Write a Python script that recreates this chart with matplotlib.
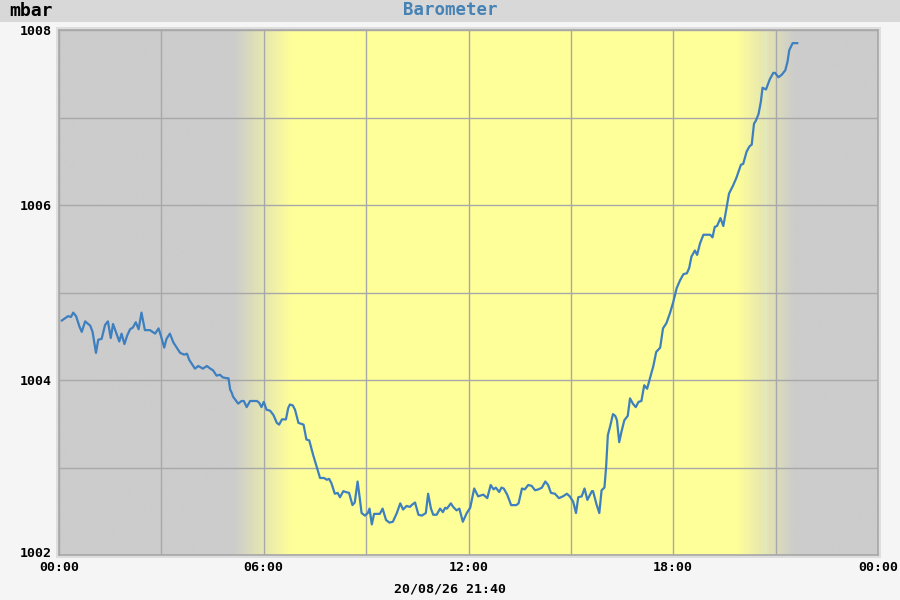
import numpy as np
import matplotlib
matplotlib.use("Agg")
import matplotlib.pyplot as plt
import matplotlib.transforms as mtransforms
from matplotlib.patches import Rectangle

# barometer readings, 20/08/26 (time of day, mbar)
times = [
    "00:05", "00:16", "00:21", "00:25", "00:30", "00:36", "00:40", "00:46", "00:55", "00:59",
    "01:05", "01:09", "01:15", "01:21", "01:26", "01:31", "01:35", "01:41", "01:46", "01:50",
    "01:55", "02:00", "02:05", "02:10", "02:15", "02:20", "02:25", "02:31", "02:40", "02:49",
    "02:55", "02:59", "03:05", "03:09", "03:15", "03:21", "03:27", "03:33", "03:40", "03:45",
    "03:49", "03:59", "04:05", "04:13", "04:20", "04:26", "04:31", "04:37", "04:43", "04:48",
    "04:55", "04:58", "05:01", "05:04", "05:06", "05:15", "05:21", "05:25", "05:30", "05:36",
    "05:48", "05:52", "05:56", "06:00", "06:05", "06:11", "06:17", "06:23", "06:27", "06:32",
    "06:39", "06:43", "06:46", "06:51", "06:55", "07:01", "07:10", "07:15", "07:20", "07:27",
    "07:33", "07:39", "07:46", "07:51", "07:55", "07:59", "08:05", "08:10", "08:14", "08:20",
    "08:24", "08:30", "08:36", "08:40", "08:45", "08:49", "08:52", "08:58", "09:03", "09:06",
    "09:10", "09:14", "09:24", "09:29", "09:35", "09:41", "09:47", "09:54", "10:00", "10:05",
    "10:11", "10:17", "10:20", "10:26", "10:32", "10:38", "10:45", "10:49", "10:54", "10:58",
    "11:04", "11:10", "11:15", "11:19", "11:22", "11:29", "11:33", "11:39", "11:44", "11:50",
    "11:57", "12:03", "12:10", "12:17", "12:26", "12:33", "12:39", "12:44", "12:48", "12:54",
    "12:58", "13:02", "13:08", "13:15", "13:24", "13:28", "13:34", "13:39", "13:45", "13:51",
    "13:57", "14:03", "14:09", "14:15", "14:20", "14:25", "14:32", "14:39", "14:46", "14:53",
    "14:58", "15:04", "15:09", "15:13", "15:19", "15:24", "15:29", "15:37", "15:39", "15:45",
    "15:50", "15:54", "15:59", "16:02", "16:05", "16:09", "16:14", "16:18", "16:21", "16:25",
    "16:29", "16:34", "16:40", "16:44", "16:49", "16:54", "16:59", "17:04", "17:09", "17:14",
    "17:20", "17:25", "17:30", "17:37", "17:42", "17:48", "17:54", "18:00", "18:06", "18:12",
    "18:18", "18:24", "18:28", "18:32", "18:38", "18:42", "18:47", "18:53", "19:05", "19:09",
    "19:13", "19:17", "19:23", "19:28", "19:33", "19:38", "19:45", "19:51", "19:59", "20:03",
    "20:09", "20:14", "20:18", "20:22", "20:25", "20:30", "20:34", "20:37", "20:43", "20:50",
    "20:56", "20:59", "21:05", "21:11", "21:17", "21:21", "21:24", "21:30", "21:38",
]
pressure = [
    1004.68, 1004.73, 1004.72, 1004.77, 1004.73, 1004.61, 1004.55, 1004.67, 1004.62, 1004.55,
    1004.31, 1004.46, 1004.47, 1004.63, 1004.67, 1004.48, 1004.64, 1004.53, 1004.44, 1004.53,
    1004.41, 1004.51, 1004.58, 1004.60, 1004.66, 1004.58, 1004.77, 1004.57, 1004.57, 1004.53,
    1004.59, 1004.51, 1004.37, 1004.47, 1004.53, 1004.43, 1004.37, 1004.31, 1004.29, 1004.30,
    1004.23, 1004.13, 1004.16, 1004.13, 1004.16, 1004.13, 1004.11, 1004.05, 1004.06, 1004.03,
    1004.02, 1004.02, 1003.89, 1003.85, 1003.81, 1003.73, 1003.76, 1003.76, 1003.69, 1003.76,
    1003.76, 1003.74, 1003.69, 1003.75, 1003.66, 1003.65, 1003.60, 1003.51, 1003.49, 1003.55,
    1003.55, 1003.68, 1003.72, 1003.71, 1003.66, 1003.51, 1003.49, 1003.32, 1003.31, 1003.14,
    1003.01, 1002.88, 1002.88, 1002.86, 1002.87, 1002.82, 1002.70, 1002.71, 1002.66, 1002.73,
    1002.72, 1002.71, 1002.57, 1002.60, 1002.84, 1002.64, 1002.48, 1002.45, 1002.48, 1002.53,
    1002.35, 1002.47, 1002.47, 1002.53, 1002.40, 1002.37, 1002.38, 1002.48, 1002.59, 1002.52,
    1002.56, 1002.55, 1002.57, 1002.60, 1002.46, 1002.45, 1002.48, 1002.70, 1002.53, 1002.46,
    1002.46, 1002.53, 1002.49, 1002.54, 1002.53, 1002.59, 1002.55, 1002.51, 1002.53, 1002.38,
    1002.48, 1002.54, 1002.76, 1002.67, 1002.69, 1002.65, 1002.80, 1002.75, 1002.77, 1002.72,
    1002.77, 1002.76, 1002.69, 1002.57, 1002.57, 1002.59, 1002.76, 1002.75, 1002.80, 1002.79,
    1002.74, 1002.75, 1002.77, 1002.84, 1002.80, 1002.71, 1002.70, 1002.65, 1002.67, 1002.70,
    1002.67, 1002.61, 1002.48, 1002.66, 1002.67, 1002.76, 1002.63, 1002.73, 1002.73, 1002.58,
    1002.48, 1002.74, 1002.77, 1003.01, 1003.37, 1003.47, 1003.61, 1003.59, 1003.54, 1003.29,
    1003.41, 1003.54, 1003.59, 1003.79, 1003.73, 1003.69, 1003.75, 1003.76, 1003.94, 1003.90,
    1004.04, 1004.16, 1004.32, 1004.37, 1004.59, 1004.65, 1004.76, 1004.89, 1005.05, 1005.14,
    1005.21, 1005.22, 1005.28, 1005.41, 1005.48, 1005.43, 1005.56, 1005.66, 1005.66, 1005.63,
    1005.75, 1005.76, 1005.85, 1005.76, 1005.94, 1006.13, 1006.22, 1006.31, 1006.46, 1006.47,
    1006.61, 1006.67, 1006.69, 1006.93, 1006.96, 1007.04, 1007.18, 1007.34, 1007.32, 1007.44,
    1007.51, 1007.51, 1007.46, 1007.49, 1007.54, 1007.64, 1007.77, 1007.85, 1007.85,
]
sunrise = "05:58"
sunset = "20:42"
x_labels = ["00:00", "", "06:00", "", "12:00", "", "18:00", "", "00:00"]
y_labels = ["1002", "", "1004", "", "1006", "", "1008"]
stamp = "20/08/26 21:40"


def to_hours(s):
    h, m = s.split(":")
    return int(h) + int(m) / 60.0


hours = np.array([to_hours(t) for t in times])
rise, sset = to_hours(sunrise), to_hours(sunset)

fig = plt.figure(figsize=(9, 6), dpi=100, facecolor="#f5f5f5")
W, H = 900.0, 600.0

# title bar
fig.patches.append(Rectangle((0, 1 - 22 / H), 1, 22 / H, transform=fig.transFigure,
                             facecolor="#d8d8d8", edgecolor="none", zorder=-5))
# light border round the plot
fig.patches.append(Rectangle((56 / W, 1 - 558 / H), 825 / W, 531 / H, transform=fig.transFigure,
                             facecolor="#dedede", edgecolor="none", zorder=-5))

ax = fig.add_axes([59 / W, 45 / H, 819 / W, 525 / H])

# day / night background with soft edges
night = np.array([0xcc, 0xcc, 0xcc]) / 255.0
day = np.array([0xff, 0xff, 0x99]) / 255.0
xs = np.linspace(0, 24, 2000)
half = 0.85
f = np.clip((xs - (rise - half)) / (2 * half), 0, 1) * np.clip(((sset + half) - xs) / (2 * half), 0, 1)
bg = night[None, :] * (1 - f[:, None]) + day[None, :] * f[:, None]
ax.imshow(bg[None, :, :], extent=[0, 24, 1002, 1008], aspect="auto", origin="lower",
          interpolation="bilinear", zorder=0)
for t in (rise, sset):
    ax.axvline(t, color="#d4f0cc", lw=1, zorder=1)

ax.set_xlim(0, 24)
ax.set_ylim(1002, 1008)
ax.set_xticks(np.arange(0, 25, 3))
ax.set_xticklabels(x_labels)
ax.set_yticks(np.arange(1002, 1009, 1))
ax.set_yticklabels(y_labels)
ax.grid(True, color="#a8a8a8", lw=1)
ax.set_axisbelow(False)
for ln in ax.get_xgridlines() + ax.get_ygridlines():
    ln.set_zorder(2)
ax.tick_params(axis="x", length=0, labelsize=9.5, pad=4)
ax.tick_params(axis="y", length=0, labelsize=9.5, pad=5)
for lab in ax.get_xticklabels() + ax.get_yticklabels():
    lab.set_family("DejaVu Sans Mono")
    lab.set_weight("bold")
# bottom value label sits a little higher, clear of the time labels
low = ax.get_yticklabels()[0]
low.set_transform(low.get_transform() + mtransforms.ScaledTranslation(0, 3 / 100, fig.dpi_scale_trans))
for sp in ax.spines.values():
    sp.set_color("#a8a8a8")
    sp.set_linewidth(1.2)

ax.plot(hours, pressure, color="#3d7fbf", lw=1.6, zorder=3, solid_joinstyle="round")

fig.text(9 / W, 1 - 11 / H, "mbar", family="DejaVu Sans Mono", weight="bold",
         fontsize=13, color="black", ha="left", va="center")
fig.text(450 / W, 1 - 10 / H, "Barometer", family="DejaVu Sans Mono", weight="bold",
         fontsize=12.5, color="#4682b4", ha="center", va="center")
fig.text(450 / W, 1 - 589 / H, stamp, family="DejaVu Sans Mono", weight="bold",
         fontsize=9.5, color="black", ha="center", va="center")

fig.savefig("out.png", dpi=100, facecolor=fig.get_facecolor())
